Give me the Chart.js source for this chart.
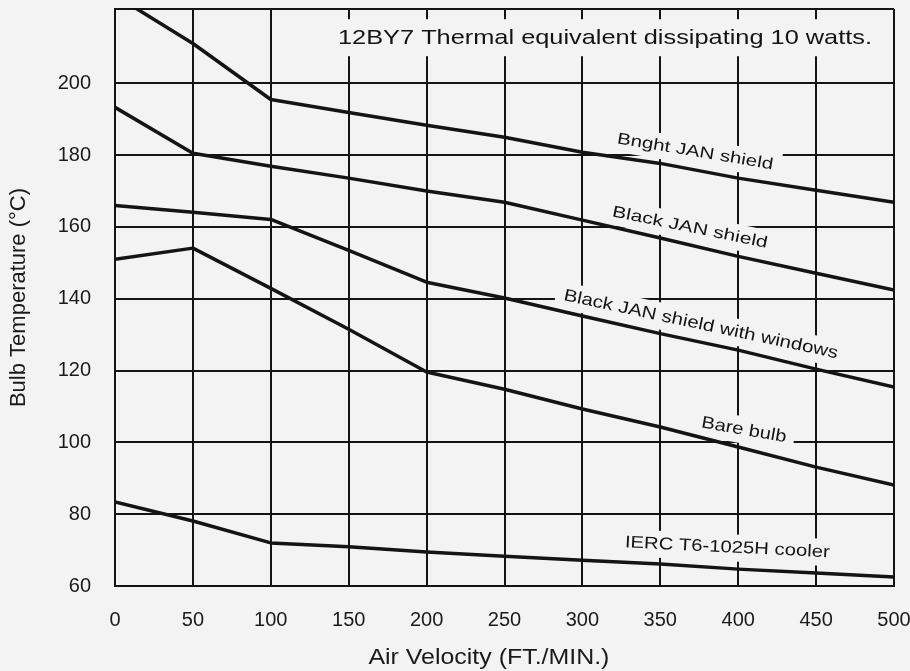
<!DOCTYPE html>
<html>
<head>
<meta charset="utf-8">
<script src="https://cdn.jsdelivr.net/npm/chart.js@4.4.1/dist/chart.umd.min.js"></script>
<style>
html,body{margin:0;padding:0;background:#f3f3f3;}
#wrap{width:910px;height:671px;}
</style>
</head>
<body>
<div id="wrap"><canvas id="c" width="910" height="671"></canvas></div>
<script>
// ---- data ----
const airVelocity = [0, 50, 100, 150, 200, 250, 300, 350, 400, 450, 500];
const brightJanShield   = [224.5, 211.1, 195.5, 191.9, 188.3, 185.0, 180.8, 177.7, 173.6, 170.2, 166.9];
const blackJanShield    = [193.3, 180.5, 176.9, 173.6, 170.0, 166.9, 161.9, 156.9, 151.8, 147.1, 142.4];
const blackJanWindows   = [166.0, 164.1, 162.1, 153.5, 144.6, 140.2, 135.2, 130.3, 125.7, 120.4, 115.4];
const bareBulb          = [151.0, 154.1, 142.9, 131.5, 119.6, 114.8, 109.3, 104.3, 98.7, 93.1, 88.1];
const iercCooler        = [83.4, 78.1, 72.0, 70.9, 69.5, 68.3, 67.2, 66.1, 64.7, 63.6, 62.5];
const seriesNames = ["Bnght JAN shield", "Black JAN shield", "Black JAN shield with windows", "Bare bulb", "IERC T6-1025H cooler"];
const xTickValues = [0, 50, 100, 150, 200, 250, 300, 350, 400, 450, 500];
const yTickValues = [60, 80, 100, 120, 140, 160, 180, 200];
const chartTitle = "12BY7 Thermal equivalent dissipating 10 watts.";
const xAxisTitle = "Air Velocity (FT./MIN.)";
const yAxisTitle = "Bulb Temperature (°C)";

// ---- styling ----
const BG = '#f3f3f3';
const INK = '#141414';
const FONT = '"Liberation Sans", Arial, Helvetica, sans-serif';
Chart.defaults.font.family = FONT;

const seriesValues = [brightJanShield, blackJanShield, blackJanWindows, bareBulb, iercCooler];

// in-plot text placement (data coordinates of centre, rotation, size, fitted width)
const textPlacement = [
  {text: chartTitle,     x: 314.5, y: 212.7, angle: 0,    size: 21, width: 534, padX: 8, padY: 8},
  {text: seriesNames[0], x: 372.3, y: 180.9, angle: 9.5,  size: 16, width: 158, padX: 8, padY: 5},
  {text: seriesNames[1], x: 369.0, y: 159.8, angle: 11.5, size: 16, width: 158, padX: 8, padY: 5},
  {text: seriesNames[2], x: 376.0, y: 132.8, angle: 12,   size: 17, width: 280, padX: 8, padY: 5},
  {text: seriesNames[3], x: 403.7, y: 103.4, angle: 10,   size: 17, width: 86,  padX: 8, padY: 5},
  {text: seriesNames[4], x: 393.0, y: 70.7,  angle: 2.8,  size: 17, width: 205, padX: 8, padY: 5}
];
// x-axis title placement below the axis (data x of centre, offset below plot, size, fitted width)
const xTitlePlacement = {x: 240, dy: 72, size: 22, width: 241};

const bgPlugin = {
  id: 'bg',
  beforeDraw(chart) {
    const ctx = chart.ctx;
    ctx.save();
    ctx.fillStyle = BG;
    ctx.fillRect(0, 0, chart.width, chart.height);
    ctx.restore();
  }
};

function drawFitted(ctx, text, px, py, angle, size, width, color, clear) {
  ctx.save();
  ctx.font = `${size}px ${FONT}`;
  const w = ctx.measureText(text).width;
  ctx.translate(px, py);
  ctx.rotate(angle * Math.PI / 180);
  if (clear) {
    ctx.fillStyle = BG;
    ctx.fillRect(-width / 2 - clear.padX, -size / 2 - clear.padY, width + 2 * clear.padX, size + 2 * clear.padY);
  }
  ctx.scale(width / w, 1);
  ctx.fillStyle = color;
  ctx.textAlign = 'center';
  ctx.textBaseline = 'middle';
  ctx.fillText(text, 0, 0);
  ctx.restore();
}

const textPlugin = {
  id: 'plotText',
  beforeDatasetsDraw(chart) {
    const {ctx, scales: {x, y}} = chart;
    for (const L of textPlacement) {
      drawFitted(ctx, L.text, x.getPixelForValue(L.x), y.getPixelForValue(L.y), L.angle, L.size, L.width, INK, L);
    }
  },
  afterDraw(chart) {
    const {ctx, scales: {x}} = chart;
    const P = xTitlePlacement;
    drawFitted(ctx, xAxisTitle, x.getPixelForValue(P.x), chart.chartArea.bottom + P.dy, 0, P.size, P.width, '#1a1a1a', null);
  }
};

const datasets = seriesValues.map((vals, i) => ({
  label: seriesNames[i],
  data: airVelocity.map((v, j) => ({x: v, y: vals[j]})),
  borderColor: INK,
  borderWidth: 3.5,
  pointRadius: 0,
  tension: 0,
  fill: false,
  borderJoinStyle: 'round'
}));

new Chart(document.getElementById('c'), {
  type: 'line',
  data: {datasets},
  plugins: [bgPlugin, textPlugin],
  options: {
    responsive: false,
    animation: false,
    devicePixelRatio: 1,
    layout: {padding: {top: 9, right: 16, left: 0, bottom: 0}},
    plugins: {legend: {display: false}, tooltip: {enabled: false}},
    scales: {
      x: {
        type: 'linear',
        min: 0, max: 500,
        afterBuildTicks: s => { s.ticks = xTickValues.map(v => ({value: v})); },
        afterFit: s => { s.height = 85; s.paddingLeft = 0; s.paddingRight = 0; },
        ticks: {font: {size: 20}, color: '#1a1a1a', padding: 22, maxRotation: 0, autoSkip: false},
        grid: {color: INK, lineWidth: 2, drawTicks: false},
        border: {color: INK, width: 2},
        title: {display: false, text: xAxisTitle}
      },
      y: {
        type: 'linear',
        min: 60, max: 220.7,
        afterBuildTicks: s => { s.ticks = yTickValues.map(v => ({value: v})).concat([{value: s.max}]); },
        afterFit: s => { s.width = 115; s.paddingTop = 0; s.paddingBottom = 0; },
        ticks: {font: {size: 20}, color: '#1a1a1a', padding: 24, autoSkip: false,
                callback: v => (v <= 200 ? String(v) : '')},
        grid: {color: INK, lineWidth: 2, drawTicks: false},
        border: {color: INK, width: 2},
        title: {display: true, text: yAxisTitle, font: {size: 22}, color: '#1a1a1a', padding: {top: 6, bottom: 0}}
      }
    }
  }
});
</script>
</body>
</html>
